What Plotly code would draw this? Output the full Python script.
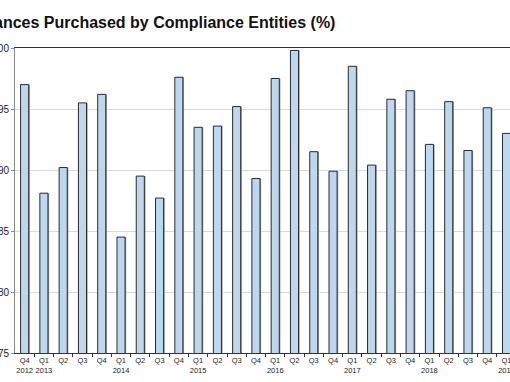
import plotly.graph_objects as go

quarters = ["Q4", "Q1", "Q2", "Q3", "Q4", "Q1", "Q2", "Q3", "Q4", "Q1", "Q2", "Q3", "Q4",
            "Q1", "Q2", "Q3", "Q4", "Q1", "Q2", "Q3", "Q4", "Q1", "Q2", "Q3", "Q4", "Q1"]
years = ["2012", "2013", "", "", "", "2014", "", "", "", "2015", "", "", "",
         "2016", "", "", "", "2017", "", "", "", "2018", "", "", "", "2019"]
values = [97.0, 88.1, 90.2, 95.5, 96.2, 84.5, 89.5, 87.7, 97.6, 93.5, 93.6, 95.2, 89.3,
          97.5, 99.8, 91.5, 89.9, 98.5, 90.4, 95.8, 96.5, 92.1, 95.6, 91.6, 95.1, 93.0]
title_text = "ances Purchased by Compliance Entities (%)"

x = list(range(len(values)))
ticktext = [q + ("<br>" + y if y else "") for q, y in zip(quarters, years)]
boundaries = [i + 0.5 for i in x]

W, H = 510, 382
ML, MR, MT, MB = 15, 0, 48, 29

fig = go.Figure()
# soft shadow behind bars
fig.add_trace(go.Bar(
    x=x, y=values, width=0.42, offset=-0.21 + 0.06,
    marker=dict(color="#9a9a9a", line=dict(width=0)),
    hoverinfo="skip", showlegend=False,
))
fig.add_trace(go.Bar(
    x=x, y=values, width=0.42, offset=-0.21,
    marker=dict(color="#BDD7EE", line=dict(color="#2b2b2b", width=1)),
    showlegend=False,
))

fig.update_layout(
    width=W, height=H, autosize=False,
    margin=dict(l=ML, r=MR, t=MT, b=MB, pad=0, autoexpand=False),
    paper_bgcolor="white", plot_bgcolor="white",
    barmode="overlay",
    font=dict(family="Liberation Sans, Arial, sans-serif", color="#222"),
    xaxis=dict(
        range=[-0.5, 25.18], automargin=False,
        tickmode="array", tickvals=x, ticktext=ticktext,
        ticks="", tickfont=dict(size=7.5, color="#222"),
        ticklabeloverflow="allow",
        showline=True, linecolor="#333", linewidth=1, mirror=True,
        showgrid=False, zeroline=False,
        minor=dict(tickmode="array", tickvals=boundaries, ticks="outside",
                   ticklen=3, tickcolor="#333", showgrid=False),
    ),
    yaxis=dict(
        range=[75, 100], automargin=False,
        tickmode="linear", tick0=75, dtick=5,
        ticks="outside", ticklen=3, tickcolor="#888",
        tickfont=dict(size=10, color="#222"),
        ticklabeloverflow="allow",
        showline=True, linecolor="#888", linewidth=1,
        showgrid=True, gridcolor="#d9d9d9", gridwidth=1, zeroline=False,
    ),
    annotations=[dict(
        text="<b>" + title_text + "</b>",
        xref="paper", yref="paper",
        x=(-8 - ML) / (W - ML - MR), y=1 + (MT - 23) / (H - MT - MB),
        xanchor="left", yanchor="middle", showarrow=False,
        font=dict(size=16, color="#111"),
    )],
)

fig.write_html("out.html",
               config={"displayModeBar": False},
               post_script="document.body.style.margin='0';document.body.style.overflow='hidden';")
